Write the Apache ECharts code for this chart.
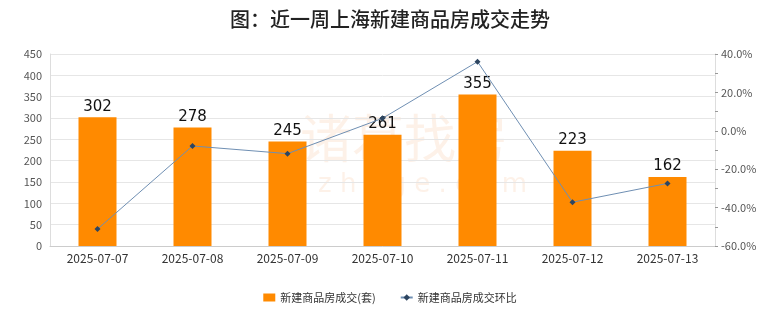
<!DOCTYPE html>
<html><head><meta charset="utf-8">
<script src="https://cdn.jsdelivr.net/npm/echarts@6/dist/echarts.min.js"></script>
<style>html,body{margin:0;padding:0;background:#fff}#c{width:780px;height:328px}</style>
</head><body><div id="c"></div>
<script>
const categories = ['2025-07-07','2025-07-08','2025-07-09','2025-07-10','2025-07-11','2025-07-12','2025-07-13'];
const dealCounts = [302, 278, 245, 261, 355, 223, 162];
const changeRates = [-51.2, -7.9, -11.9, 6.5, 36.0, -37.2, -27.4];
const leftTicks = {min: 0, max: 450, interval: 50};
const rightTicks = {min: -60, max: 40, interval: 10};
const titleText = '图：近一周上海新建商品房成交走势';
const barName = '新建商品房成交(套)';
const lineName = '新建商品房成交环比';

const chart = echarts.init(document.getElementById('c'));
const font = '"Noto Sans CJK SC", "Noto Sans", sans-serif';
chart.setOption({
  backgroundColor: '#ffffff',
  animation: false,
  title: {text: titleText, left: 'center', top: 4,
    textStyle: {fontFamily: font, fontSize: 20, fontWeight: 500, color: '#222'}},
  legend: {bottom: 20, left: 'center', itemGap: 24, itemWidth: 12, itemHeight: 8,
    textStyle: {fontFamily: font, fontSize: 11, color: '#333'},
    data: [{name: barName, icon: 'rect', itemStyle: {}}, {name: lineName}]},
  graphic: [{type: 'text', left: 300, top: 112, z: -10, zlevel: 0, silent: true,
    style: {text: '诸葛找房', fontSize: 52, fontFamily: font, fill: 'rgba(240,170,110,0.16)'}},
    {type: 'text', left: 318, top: 172, z: -10, silent: true,
    style: {text: 'z h u g e . c o m', fontSize: 26, fontFamily: 'DejaVu Sans', fill: 'rgba(240,170,110,0.16)'}}],
  grid: {left: 50, right: 65, top: 54, bottom: 82},
  xAxis: {type: 'category', data: categories,
    axisLine: {lineStyle: {color: '#cccccc'}}, axisTick: {show: false},
    axisLabel: {fontFamily: font, fontSize: 12, color: '#333', margin: 6}},
  yAxis: [
    {type: 'value', min: leftTicks.min, max: leftTicks.max, interval: leftTicks.interval,
      axisLine: {show: true, lineStyle: {color: '#dddddd'}}, axisTick: {show: false},
      splitLine: {lineStyle: {color: '#e6e6e6'}},
      axisLabel: {fontFamily: font, fontSize: 11, color: '#555', margin: 8}},
    {type: 'value', min: rightTicks.min, max: rightTicks.max, interval: rightTicks.interval,
      axisLine: {show: true, lineStyle: {color: '#dddddd'}},
      axisTick: {show: true, length: 3, lineStyle: {color: '#999'}},
      splitLine: {show: false},
      axisLabel: {fontFamily: font, fontSize: 11, color: '#555', margin: 6,
        formatter: v => (Math.round(v) % 20 === 0 ? v.toFixed(1) + '%' : '')}}
  ],
  series: [
    {name: barName, type: 'bar', data: dealCounts, barWidth: 38, z: 2,
      itemStyle: {color: '#ff8a00'},
      label: {show: true, position: 'top', distance: 3, fontFamily: 'DejaVu Sans', fontSize: 15, color: '#111'}},
    {name: lineName, type: 'line', yAxisIndex: 1, data: changeRates, z: 3,
      symbol: 'diamond', symbolSize: 6,
      lineStyle: {color: '#6f8fb3', width: 1},
      itemStyle: {color: '#2d4560'}}
  ]
});
</script></body></html>
